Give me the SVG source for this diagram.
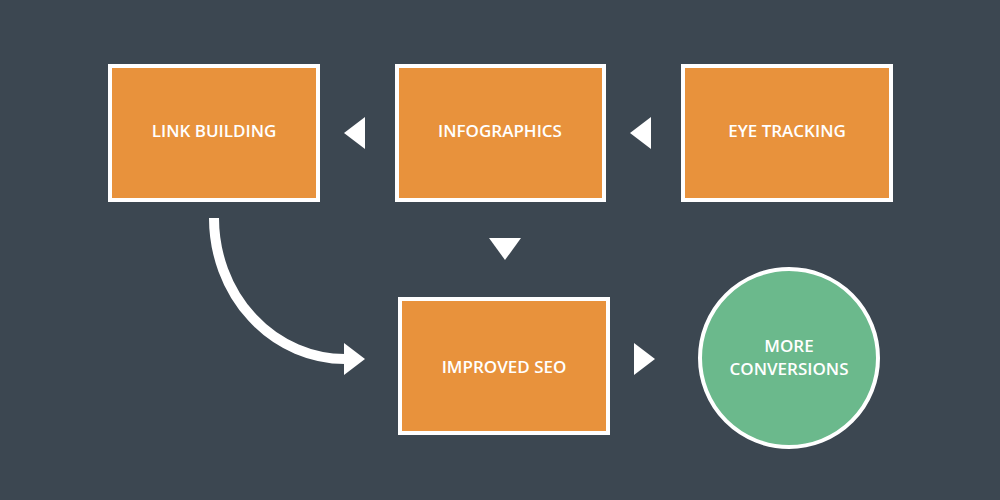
<svg xmlns="http://www.w3.org/2000/svg" width="1000" height="500" viewBox="0 0 1000 500">
<style>
.box{fill:#e8923c;stroke:#ffffff;stroke-width:4}
.circ{fill:#6bb98c;stroke:#ffffff;stroke-width:4}
.lbl{font-family:"Open Sans","Noto Sans",sans-serif;font-weight:600;font-size:17px;fill:#ffffff;text-anchor:middle}
.tri{fill:#ffffff}
</style>
<rect width="1000" height="500" fill="#3c4751"/>
<g id="link-building">
<rect class="box" x="110" y="66" width="208" height="134"/>
<text class="lbl" x="214" y="137">LINK BUILDING</text>
</g>
<g id="infographics">
<rect class="box" x="397" y="66" width="207" height="134"/>
<text class="lbl" x="500" y="137">INFOGRAPHICS</text>
</g>
<g id="eye-tracking">
<rect class="box" x="683" y="66" width="208" height="134"/>
<text class="lbl" x="787" y="137">EYE TRACKING</text>
</g>
<g id="improved-seo">
<rect class="box" x="400" y="299" width="208" height="134"/>
<text class="lbl" x="504" y="373">IMPROVED SEO</text>
</g>
<g id="more-conversions">
<circle class="circ" cx="789" cy="358" r="89"/>
<text class="lbl" x="789" y="352">MORE</text>
<text class="lbl" x="789" y="375">CONVERSIONS</text>
</g>
<g id="connectors">
<polygon class="tri" points="344,133 365,117 365,149"/>
<polygon class="tri" points="630,133 651,117 651,149"/>
<polygon class="tri" points="489,238 521,238 505,260"/>
<polygon class="tri" points="655,359 634,343 634,375"/>
<path d="M214,218 A131,141 0 0 0 345,359" fill="none" stroke="#ffffff" stroke-width="10"/>
<polygon class="tri" points="365,359 344,343 344,375"/>
</g>
</svg>
